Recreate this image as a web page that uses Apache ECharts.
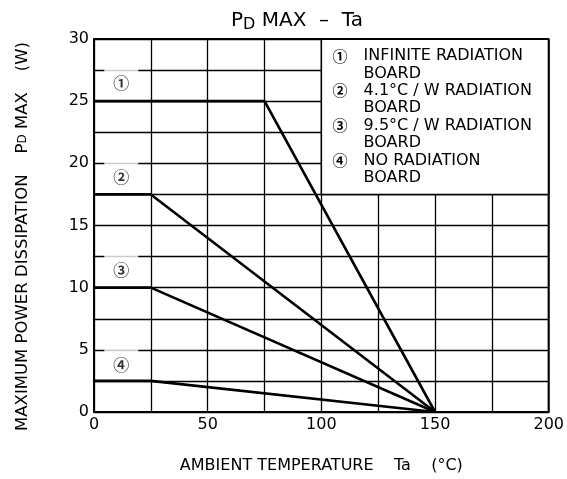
<!DOCTYPE html>
<html><head><meta charset="utf-8">
<script src="https://cdn.jsdelivr.net/npm/echarts@6/dist/echarts.min.js"></script>
<style>html,body{margin:0;padding:0;background:#fff}#c{width:567px;height:479px}</style>
</head><body><div id="c"></div>
<script>
const xTicks = [0, 50, 100, 150, 200];
const yTicks = [0, 5, 10, 15, 20, 25, 30];
const curve1 = [[0, 25], [75, 25], [150, 0]];
const curve2 = [[0, 17.5], [25, 17.5], [150, 0]];
const curve3 = [[0, 10], [25, 10], [150, 0]];
const curve4 = [[0, 2.5], [25, 2.5], [150, 0]];
const curveLabels = [[12, 26.5, '①'], [12, 18.9, '②'], [12, 11.4, '③'], [12, 3.8, '④']];
const legendItems = [['①', 'INFINITE RADIATION'], ['②', '4.1°C / W RADIATION'], ['③', '9.5°C / W RADIATION'], ['④', 'NO RADIATION']];
const legendSub = 'BOARD';
const legendBox = [[100, 30], [200, 17.5]];

const FONT = 'DejaVu Sans';
const CIRC = 'Noto Sans CJK JP';
const chart = echarts.init(document.getElementById('c'), null, {renderer: 'canvas'});
const lineSeries = (d) => ({type: 'line', data: d, symbol: 'none', lineStyle: {color: '#000', width: 2.6}, z: 5, silent: true});

const legendText = legendItems.map(([n, t]) => `{n|${n}}{t|${t}}\n{n| }{t|${legendSub}}`).join('\n');

chart.setOption({
  animation: false,
  backgroundColor: '#fff',
  textStyle: {fontFamily: FONT},
  title: {
    text: 'P{sub|D} MAX  –  Ta',
    left: 292, top: 3, textAlign: 'center',
    textStyle: {fontFamily: FONT, fontSize: 20, fontWeight: 'normal', color: '#000',
      rich: {sub: {fontFamily: FONT, fontSize: 16, color: '#000', padding: [9, 0, 0, 0]}}}
  },
  grid: {left: 94, right: 16, top: 39, bottom: 65},
  xAxis: {
    type: 'value', min: 0, max: 200, interval: 25,
    name: 'AMBIENT TEMPERATURE    Ta    (°C)', nameLocation: 'middle', nameGap: 46,
    nameTextStyle: {fontFamily: FONT, fontSize: 16, color: '#000'},
    axisLine: {show: true, lineStyle: {color: '#000', width: 2}},
    axisTick: {show: false},
    axisLabel: {color: '#000', fontSize: 16, fontFamily: FONT, margin: 5,
      formatter: v => xTicks.includes(v) ? String(v) : ''},
    splitLine: {show: true, lineStyle: {color: '#000', width: 1.3}}
  },
  yAxis: {
    type: 'value', min: 0, max: 30, interval: 2.5,
    name: 'MAXIMUM POWER DISSIPATION    P{sub|D} MAX    (W)', nameLocation: 'middle', nameGap: 63,
    nameTextStyle: {fontFamily: FONT, fontSize: 16.5, color: '#000', padding: [0, 0, 0, -22],
      rich: {sub: {fontFamily: FONT, fontSize: 12, color: '#000'}}},
    axisLine: {show: true, lineStyle: {color: '#000', width: 2}},
    axisTick: {show: false},
    axisLabel: {color: '#000', fontSize: 16, fontFamily: FONT, margin: 5,
      formatter: v => yTicks.includes(v) ? String(v) : ''},
    splitLine: {show: true, lineStyle: {color: '#000', width: 1.3}}
  },
  series: [
    Object.assign(lineSeries(curve1), {
      markArea: {
        silent: true,
        itemStyle: {color: '#fff', borderColor: '#000', borderWidth: 1.5},
        label: {show: true, position: 'insideTopLeft', distance: 0, padding: [9, 0, 0, 12],
          color: '#000', fontFamily: FONT, fontSize: 16, lineHeight: 17.4,
          formatter: () => legendText,
          rich: {
            n: {fontFamily: CIRC, fontSize: 15, fontWeight: 'bold', width: 31, lineHeight: 17.4, color: '#000'},
            t: {fontFamily: FONT, fontSize: 16, lineHeight: 17.4, color: '#000'}
          }},
        data: [[{coord: legendBox[0]}, {coord: legendBox[1]}]]
      }
    }),
    lineSeries(curve2),
    lineSeries(curve3),
    lineSeries(curve4),
    {
      type: 'scatter', data: curveLabels, symbolSize: 0, z: 4, silent: true,
      label: {show: true, position: 'inside', formatter: p => p.data[2], color: '#000',
        fontFamily: CIRC, fontSize: 16, fontWeight: 'bold', backgroundColor: '#fff', padding: [14, 9, 1, 9]}
    },
    {type: 'line', data: [[200, 0], [200, 30]], symbol: 'none', lineStyle: {color: '#000', width: 2}, z: 6, silent: true},
    {type: 'line', data: [[0, 30], [200, 30]], symbol: 'none', lineStyle: {color: '#000', width: 2}, z: 6, silent: true}
  ]
});
</script></body></html>
